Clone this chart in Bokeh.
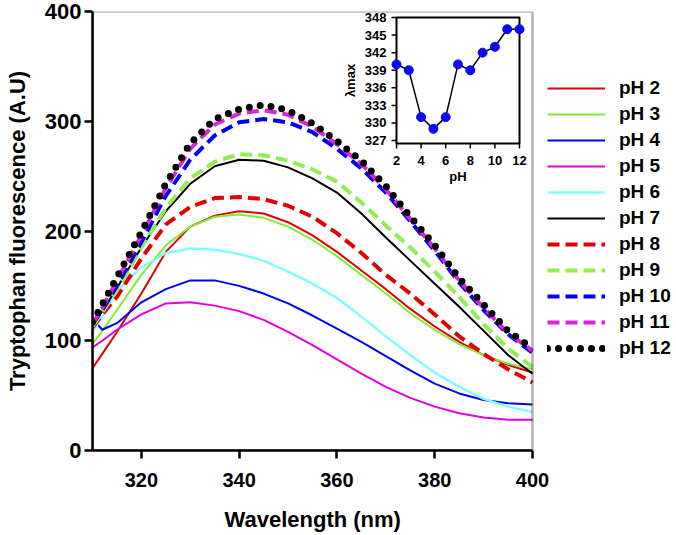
import math
from bokeh.plotting import figure
from bokeh.models import Range1d, Legend, LegendItem, FixedTicker, BoxAnnotation, Title
from bokeh.core.properties import value
from bokeh.embed import file_html
from bokeh.resources import INLINE

# ---------------- data ----------------
wavelength = [310, 312, 315, 320, 325, 330, 335, 340, 345, 350, 355, 360, 365, 370, 375, 380, 385, 390, 395, 400]
ph2 = [75, 88, 108, 143, 181, 204, 214, 218, 216, 208, 196, 181, 164, 147, 129, 113, 99, 87, 78, 71]
ph3 = [97, 109, 128, 160, 187, 204, 213, 215, 212, 204, 192, 177, 160, 143, 125, 110, 97, 87, 79, 74]
ph4 = [120, 110, 116, 135, 147, 155, 155, 150, 143, 134, 123, 111, 99, 86, 73, 61, 52, 46, 43, 42]
ph5 = [94, 100, 110, 124, 134, 135, 132, 127, 119, 108, 96, 83, 70, 58, 48, 40, 34, 30, 28, 28]
ph6 = [108, 122, 145, 167, 180, 184, 183, 179, 173, 163, 152, 139, 122, 104, 87, 71, 58, 47, 40, 35]
ph7 = [114, 127, 148, 185, 218, 243, 259, 265, 264, 258, 248, 235, 216, 194, 173, 152, 131, 109, 87, 70]
ph8 = [112, 124, 140, 175, 206, 222, 230, 231, 229, 223, 213, 198, 180, 160, 143, 124, 104, 88, 74, 62]
ph9 = [113, 126, 146, 185, 221, 248, 263, 270, 269, 264, 256, 245, 226, 205, 185, 163, 140, 115, 93, 76]
ph10 = [115, 128, 150, 190, 232, 265, 287, 299, 302, 299, 290, 275, 257, 235, 209, 182, 153, 128, 106, 89]
ph11 = [115, 130, 155, 196, 239, 275, 297, 307, 310, 306, 295, 279, 261, 238, 211, 184, 155, 130, 107, 91]
ph12 = [117, 133, 158, 199, 243, 280, 302, 311, 315, 310, 298, 282, 264, 241, 213, 187, 157, 133, 109, 93]
series = [ph2, ph3, ph4, ph5, ph6, ph7, ph8, ph9, ph10, ph11, ph12]
labels = ["pH 2", "pH 3", "pH 4", "pH 5", "pH 6", "pH 7", "pH 8", "pH 9", "pH 10", "pH 11", "pH 12"]

inset_ph = [2, 3, 4, 5, 6, 7, 8, 9, 10, 11, 12]
inset_lmax = [340, 339, 331, 329, 331, 340, 339, 342, 343, 346, 346]

x_ticks = [320, 340, 360, 380, 400]
y_ticks = [0, 100, 200, 300, 400]
inset_x_ticks = [2, 4, 6, 8, 10, 12]
inset_y_ticks = [327, 330, 333, 336, 339, 342, 345, 348]

# ---------------- styles ----------------
styles = [
    ("#e00000", 2, "solid"),
    ("#80ee30", 2, "solid"),
    ("#0000f0", 2, "solid"),
    ("#e000e0", 2, "solid"),
    ("#80ffff", 2.5, "solid"),
    ("#000000", 2, "solid"),
    ("#e00000", 4, "12 6"),
    ("#90ee50", 4, "12 6"),
    ("#0000f0", 4, "12 6"),
    ("#e020e0", 4, "12 6"),
    ("#000000", 7, "0 11"),
]
FONT = "Liberation Sans"

W, H = 676, 535
X0, X1, Y0, Y1 = 310, 400, 0, 400
PL, PR, PT, PB = 92, 532, 11, 450         # visible plot box in pixels
IL, IR, IT, IB = 396, 519, 17, 143        # inset box in pixels
IX0, IX1, IY0, IY1 = 2, 12, 326.5, 348    # inset data ranges

# frame extends to the right edge of the canvas so the legend is not clipped
x_end = X1 + (W - PR) * (X1 - X0) / (PR - PL)
p = figure(width=W, height=H, x_range=Range1d(X0, x_end), y_range=Range1d(Y0, Y1),
           output_backend="svg", toolbar_location=None,
           min_border_left=PL, min_border_right=0, min_border_top=PT, min_border_bottom=H - PB)
p.xgrid.visible = False
p.ygrid.visible = False
p.outline_line_color = None
p.background_fill_color = "white"
p.border_fill_color = "white"
p.add_layout(BoxAnnotation(left=X0, right=X1, bottom=Y0, top=Y1, fill_alpha=0,
                           line_color="black", line_width=2.5))

for ax, ticks, fs in ((p.xaxis, x_ticks, "20px"), (p.yaxis, y_ticks, "22px")):
    ax.ticker = FixedTicker(ticks=ticks)
    ax.axis_line_width = 2.5
    ax.major_tick_line_width = 2.5
    ax.major_tick_out = 8
    ax.major_tick_in = 0
    ax.minor_tick_out = 0
    ax.minor_tick_in = 0
    ax.major_label_text_font = FONT
    ax.major_label_text_font_style = "bold"
    ax.major_label_text_font_size = fs
    ax.major_label_text_color = "black"
    ax.axis_label_text_font = FONT
    ax.axis_label_text_font_style = "bold"
    ax.axis_label_text_font_size = "22px"
    ax.axis_label_text_color = "black"
p.xaxis.bounds = (X0, X1)
p.yaxis.axis_label = "Tryptophan fluorescence (A.U)"
p.xaxis.major_label_standoff = 14
# blank spacer label pushes the x title further down
p.xaxis.axis_label = " "
p.xaxis.axis_label_text_font_size = "4px"
p.xaxis.axis_label_standoff = 4
p.yaxis.major_label_standoff = 3
p.yaxis.axis_label_standoff = 12

# x-axis title centred under the visible plot box
xtitle = Title(text="Wavelength (nm)", align="left", offset=132, standoff=6,
               text_font=FONT, text_font_style="bold", text_font_size="22px", text_color="black")
p.add_layout(xtitle, "below")

items = []
for ys, lab, (col, lw, dash) in zip(series, labels, styles):
    r = p.line(wavelength, ys, line_color=col, line_width=lw, line_dash=dash,
               line_cap="round" if dash == "0 11" else "butt")
    items.append(LegendItem(label=lab, renderers=[r]))

legend = Legend(items=items, location=(455, 91), glyph_width=58, glyph_height=20,
                label_height=20, spacing=4, padding=0, margin=0, label_standoff=14,
                border_line_color=None, background_fill_alpha=0,
                label_text_font=FONT, label_text_font_style="bold",
                label_text_font_size="19px", label_text_color="black")
p.add_layout(legend)

# ---------------- inset via extra ranges ----------------
sx = (IR - IL) / (IX1 - IX0)
sy = (IB - IT) / (IY1 - IY0)
p.extra_x_ranges = {"ix": Range1d(IX0 - (IL - PL) / sx, IX1 + (W - IR) / sx)}
p.extra_y_ranges = {"iy": Range1d(IY0 - (PB - IB) / sy, IY1 + (IT - PT) / sy)}
kw = dict(x_range_name="ix", y_range_name="iy")

p.quad(left=IX0, right=IX1, bottom=IY0, top=IY1, fill_color="white", line_color="black",
       line_width=2, **kw)
tick_len = 5
p.segment(x0=inset_x_ticks, y0=[IY0] * len(inset_x_ticks), x1=inset_x_ticks,
          y1=[IY0 - tick_len / sy] * len(inset_x_ticks), line_color="black", line_width=1.5, **kw)
p.segment(x0=[IX0] * len(inset_y_ticks), y0=inset_y_ticks, x1=[IX0 - tick_len / sx] * len(inset_y_ticks),
          y1=inset_y_ticks, line_color="black", line_width=1.5, **kw)
p.line(inset_ph, inset_lmax, line_color="black", line_width=1.5, **kw)
p.scatter(inset_ph, inset_lmax, size=9, fill_color="#0a0af5", line_color="#0a0af5", **kw)

tf = dict(text_font=value(FONT), text_font_style="bold", text_font_size="13px", text_color="black")
p.text(x=[IX0] * len(inset_y_ticks), y=inset_y_ticks, text=[str(t) for t in inset_y_ticks],
       x_offset=-10, text_align="right", text_baseline="middle", **tf, **kw)
p.text(x=inset_x_ticks, y=[IY0] * len(inset_x_ticks), text=[str(t) for t in inset_x_ticks],
       y_offset=12, text_align="center", text_baseline="top", **tf, **kw)
p.text(x=[(IX0 + IX1) / 2], y=[IY0], text=["pH"], y_offset=25, text_align="center",
       text_baseline="top", **tf, **kw)
p.text(x=[IX0], y=[(IY0 + IY1) / 2], text=["λmax"], x_offset=-46, angle=math.pi / 2,
       text_align="center", text_baseline="middle", **tf, **kw)

open("out.html", "w").write(file_html(p, INLINE))
